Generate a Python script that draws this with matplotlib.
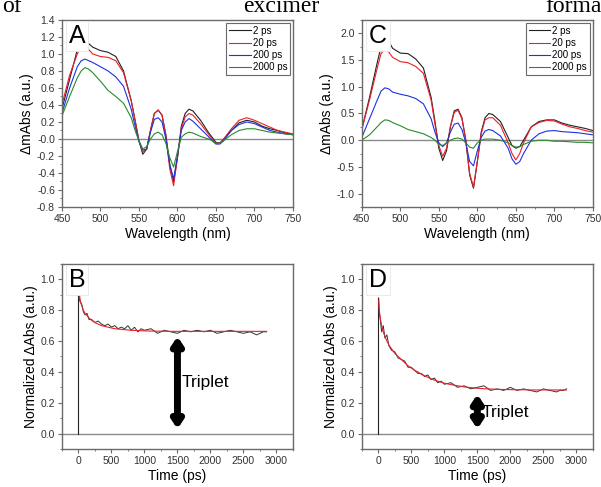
import numpy as np
import matplotlib.pyplot as plt

plt.rcParams["font.family"] = ["Liberation Sans", "DejaVu Sans"]

# wavelength grid (nm) shared by all spectra
wl = [450, 460, 470, 475, 480, 485, 490, 500, 510, 520, 530, 540, 545, 550,
      555, 560, 565, 570, 575, 580, 585, 590, 595, 600, 605, 610, 615, 620,
      630, 640, 645, 650, 655, 660, 670, 680, 690, 700, 710, 720, 730, 740, 750]
delays = ["2 ps", "20 ps", "200 ps", "2000 ps"]
colors = ["#222222", "#e8202a", "#2030e0", "#2a8a2a"]

a_2 = [0.35, 0.70, 1.05, 1.14, 1.17, 1.12, 1.08, 1.04, 1.02, 0.97, 0.80, 0.45, 0.22, -0.02,
       -0.18, -0.12, 0.10, 0.30, 0.34, 0.28, 0.05, -0.30, -0.50, -0.22, 0.15, 0.30, 0.35, 0.33,
       0.22, 0.08, 0.02, -0.04, -0.05, 0.00, 0.10, 0.19, 0.22, 0.20, 0.15, 0.12, 0.10, 0.07, 0.05]
a_20 = [0.40, 0.75, 1.00, 1.09, 1.10, 1.05, 1.00, 0.97, 0.96, 0.92, 0.78, 0.45, 0.22, -0.02,
        -0.15, -0.12, 0.10, 0.30, 0.34, 0.28, 0.03, -0.35, -0.55, -0.22, 0.12, 0.26, 0.30, 0.28,
        0.18, 0.06, 0.00, -0.05, -0.05, 0.00, 0.12, 0.22, 0.25, 0.22, 0.18, 0.14, 0.10, 0.08, 0.06]
a_200 = [0.30, 0.60, 0.85, 0.92, 0.94, 0.92, 0.90, 0.85, 0.80, 0.73, 0.62, 0.35, 0.15, -0.03,
         -0.13, -0.12, 0.08, 0.23, 0.25, 0.20, 0.00, -0.30, -0.47, -0.20, 0.10, 0.20, 0.24, 0.21,
         0.12, 0.03, -0.02, -0.06, -0.06, -0.02, 0.10, 0.17, 0.20, 0.18, 0.14, 0.10, 0.08, 0.06, 0.05]
a_2000 = [0.27, 0.50, 0.72, 0.80, 0.84, 0.82, 0.78, 0.68, 0.57, 0.50, 0.42, 0.25, 0.10, -0.02,
          -0.12, -0.09, 0.00, 0.06, 0.08, 0.05, -0.05, -0.22, -0.33, -0.15, 0.02, 0.06, 0.08, 0.07,
          0.03, 0.00, -0.02, -0.05, -0.05, -0.02, 0.05, 0.10, 0.12, 0.12, 0.10, 0.08, 0.07, 0.06, 0.05]

c_2 = [0.20, 0.80, 1.45, 1.75, 1.90, 1.85, 1.72, 1.63, 1.62, 1.52, 1.35, 0.80, 0.35, -0.15,
       -0.38, -0.20, 0.25, 0.55, 0.58, 0.42, 0.00, -0.65, -0.90, -0.40, 0.15, 0.42, 0.50, 0.48,
       0.35, 0.05, -0.10, -0.15, -0.12, 0.00, 0.25, 0.35, 0.38, 0.38, 0.32, 0.28, 0.25, 0.22, 0.18]
c_20 = [0.20, 0.75, 1.35, 1.62, 1.70, 1.65, 1.55, 1.47, 1.45, 1.38, 1.25, 0.75, 0.30, -0.10,
        -0.30, -0.15, 0.25, 0.52, 0.56, 0.40, 0.00, -0.62, -0.88, -0.40, 0.12, 0.38, 0.42, 0.42,
        0.28, -0.05, -0.25, -0.37, -0.25, -0.05, 0.25, 0.33, 0.37, 0.36, 0.30, 0.25, 0.22, 0.18, 0.15]
c_200 = [0.05, 0.40, 0.75, 0.92, 0.98, 0.96, 0.90, 0.86, 0.83, 0.78, 0.68, 0.40, 0.15, -0.05,
         -0.12, -0.05, 0.15, 0.30, 0.32, 0.20, -0.05, -0.40, -0.48, -0.20, 0.05, 0.17, 0.20, 0.18,
         0.08, -0.15, -0.35, -0.45, -0.40, -0.25, 0.00, 0.12, 0.17, 0.18, 0.16, 0.15, 0.14, 0.12, 0.10]
c_2000 = [0.00, 0.10, 0.25, 0.33, 0.38, 0.37, 0.33, 0.27, 0.20, 0.16, 0.12, 0.05, 0.00, -0.08,
          -0.10, -0.05, 0.00, 0.03, 0.04, 0.02, -0.05, -0.13, -0.15, -0.05, 0.00, 0.02, 0.02, 0.02,
          0.00, -0.05, -0.10, -0.13, -0.12, -0.08, -0.02, 0.00, 0.00, -0.02, -0.02, -0.03, -0.04, -0.04, -0.05]

# kinetics (ps)
t = [5, 15, 30, 50, 75, 100, 130, 160, 200, 250, 300, 350, 400, 450, 500, 550, 600, 650,
     700, 750, 800, 850, 900, 950, 1000, 1100, 1200, 1300, 1400, 1500, 1600, 1700, 1800,
     1900, 2000, 2100, 2200, 2300, 2400, 2500, 2600, 2700, 2750, 2800, 2850]
b_data = [0.93, 0.87, 0.85, 0.84, 0.79, 0.77, 0.78, 0.74, 0.74, 0.72, 0.73, 0.71, 0.70, 0.71,
          0.69, 0.70, 0.68, 0.69, 0.68, 0.70, 0.67, 0.69, 0.66, 0.68, 0.67, 0.68, 0.65, 0.67,
          0.66, 0.65, 0.67, 0.66, 0.67, 0.66, 0.67, 0.65, 0.66, 0.67, 0.66, 0.65, 0.66, 0.64,
          0.65, 0.66, 0.66]
b_fit = [0.95, 0.90, 0.86, 0.83, 0.80, 0.78, 0.765, 0.75, 0.735, 0.72, 0.71, 0.70, 0.695,
         0.69, 0.685, 0.68, 0.678, 0.676, 0.674, 0.672, 0.670, 0.669, 0.668, 0.667, 0.666,
         0.665, 0.664, 0.664, 0.663, 0.663, 0.663, 0.663, 0.663, 0.663, 0.663, 0.663, 0.663,
         0.663, 0.663, 0.663, 0.663, 0.663, 0.663, 0.663, 0.663]
d_data = [0.88, 0.78, 0.74, 0.66, 0.70, 0.62, 0.64, 0.57, 0.54, 0.53, 0.49, 0.48, 0.47, 0.43,
          0.43, 0.41, 0.39, 0.39, 0.37, 0.38, 0.35, 0.36, 0.33, 0.34, 0.32, 0.33, 0.30, 0.31,
          0.29, 0.30, 0.31, 0.28, 0.29, 0.28, 0.30, 0.28, 0.29, 0.28, 0.27, 0.29, 0.28, 0.27,
          0.28, 0.28, 0.29]
d_fit = [0.86, 0.80, 0.75, 0.70, 0.66, 0.63, 0.60, 0.575, 0.55, 0.52, 0.50, 0.48, 0.46,
         0.44, 0.425, 0.41, 0.40, 0.385, 0.375, 0.365, 0.355, 0.347, 0.34, 0.333, 0.327,
         0.318, 0.31, 0.303, 0.298, 0.294, 0.291, 0.289, 0.287, 0.286, 0.285, 0.284, 0.284,
         0.283, 0.283, 0.283, 0.283, 0.283, 0.283, 0.283, 0.283]

SPINE = "#6a6a6a"
TXT = "#333333"


def style(ax):
    for s in ax.spines.values():
        s.set_color(SPINE)
        s.set_linewidth(1.0)
    ax.tick_params(which="both", direction="out", colors=SPINE, labelcolor=TXT,
                   labelsize=7.5, pad=2)
    ax.tick_params(which="major", length=3)
    ax.tick_params(which="minor", length=1.5)


def panel_label(ax, s):
    ax.text(0.03, 0.875, s, transform=ax.transAxes, fontsize=18, color="black",
            va="baseline", ha="left",
            bbox=dict(boxstyle="square,pad=0.12", fc="white", ec="#e6e6e6", lw=0.6))


fig = plt.figure(figsize=(6.01, 4.87), dpi=100)
axA = fig.add_axes([0.103, 0.575, 0.3845, 0.384])
axC = fig.add_axes([0.602, 0.575, 0.3845, 0.384])
axB = fig.add_axes([0.103, 0.078, 0.3845, 0.380])
axD = fig.add_axes([0.602, 0.078, 0.3845, 0.380])

for ax, series, ylim, major, minor, lab in [
    (axA, [a_2, a_20, a_200, a_2000], (-0.8, 1.4), 0.2, 0.1, "A"),
    (axC, [c_2, c_20, c_200, c_2000], (-1.25, 2.25), 0.5, 0.25, "C"),
]:
    ax.axhline(0, color="#8a8a8a", lw=1.0, zorder=1)
    for y, c, d in zip(series, colors, delays):
        ax.plot(wl, y, color=c, lw=0.8, label=d, zorder=2)
    ax.set_xlim(450, 750)
    ax.set_ylim(*ylim)
    ax.set_xticks(np.arange(450, 751, 50))
    ax.set_xticks(np.arange(450, 751, 25), minor=True)
    ax.set_yticks(np.arange(ylim[0] if lab == "A" else -1.0, ylim[1] + 1e-9, major))
    ax.set_yticks(np.arange(ylim[0], ylim[1] + 1e-9, minor), minor=True)
    if lab == "A":
        ax.set_yticklabels([f"{v:.1f}" for v in np.arange(-0.8, 1.41, 0.2)])
    else:
        ax.set_yticklabels([f"{v:.1f}" for v in np.arange(-1.0, 2.01, 0.5)])
    style(ax)
    ax.set_xlabel("Wavelength (nm)", fontsize=10, labelpad=2)
    ax.set_ylabel("ΔmAbs (a.u.)", fontsize=10, labelpad=2)
    leg = ax.legend(loc="upper right", fontsize=7, frameon=True, fancybox=False,
                    handlelength=2.2, handletextpad=0.2, labelspacing=0.22,
                    borderpad=0.3, borderaxespad=0.3)
    leg.get_frame().set_edgecolor("#444444")
    leg.get_frame().set_linewidth(0.8)
    panel_label(ax, lab)

for ax, data, fit, top, arr, txt_y, lab in [
    (axB, b_data, b_fit, 0.95, (0.63, 0.03), 0.33, "B"),
    (axD, d_data, d_fit, 0.88, (0.255, 0.03), 0.135, "D"),
]:
    ax.axhline(0, color="#8a8a8a", lw=1.0, zorder=1)
    ax.plot([0, 0], [0, top], color="#222222", lw=0.8, zorder=2)
    ax.plot(t, data, color="#333333", lw=0.7, zorder=2)
    ax.plot(t, fit, color="#e8202a", lw=0.8, zorder=3)
    ax.annotate("", xy=(1500, arr[0]), xytext=(1500, arr[1]),
                arrowprops=dict(arrowstyle="<|-|>,head_length=0.45,head_width=0.3",
                                color="black", lw=5, shrinkA=0, shrinkB=0))
    ax.text(1560, txt_y, "Triplet", fontsize=12.5, va="center", ha="left")
    ax.set_xlim(-250, 3250)
    ax.set_ylim(-0.1, 1.1)
    ax.set_xticks(np.arange(0, 3001, 500))
    ax.set_xticks(np.arange(-250, 3251, 250), minor=True)
    ax.set_yticks(np.arange(0, 1.01, 0.2))
    ax.set_yticks(np.arange(-0.1, 1.11, 0.1), minor=True)
    ax.set_yticklabels([f"{v:.1f}" for v in np.arange(0, 1.01, 0.2)])
    style(ax)
    ax.set_xlabel("Time (ps)", fontsize=10, labelpad=2)
    ax.set_ylabel("Normalized ΔAbs (a.u.)", fontsize=10, labelpad=2)
    panel_label(ax, lab)

# caption fragments cut off at the top of the scan
serif = ["Liberation Serif", "DejaVu Serif"]
y0 = 1 - 12 / 487
fig.text(2 / 601, y0, "of", family=serif, fontsize=17, va="baseline")
fig.text(243 / 601, y0, "excimer", family=serif, fontsize=17, va="baseline")
fig.text(545 / 601, y0, "formation", family=serif, fontsize=17, va="baseline")

fig.savefig("out.png", dpi=100)
